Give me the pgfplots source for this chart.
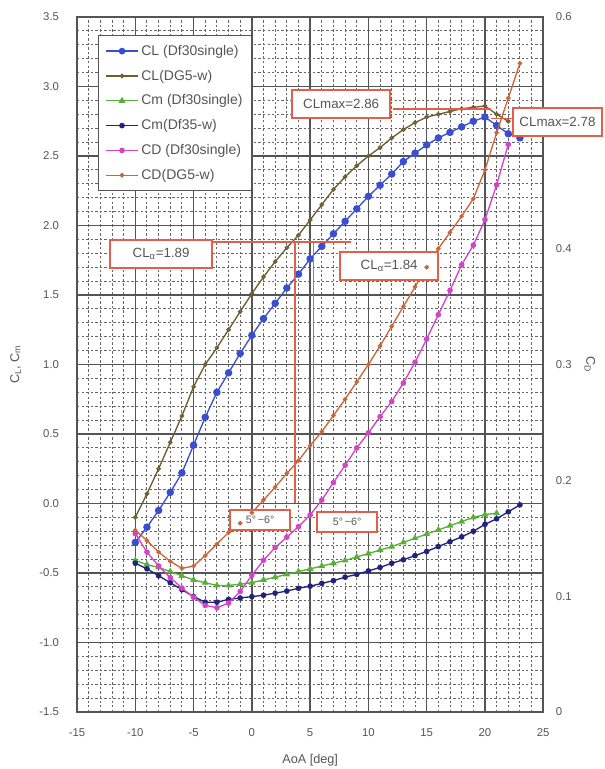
\documentclass[border=0pt]{standalone}
\usepackage{fontspec}
\setmainfont{Liberation Sans}
\usepackage{pgfplots}
\pgfplotsset{compat=1.18}
\usepackage{pgfplotstable}

\definecolor{clblue}{HTML}{3A4FD0}
\definecolor{clolive}{HTML}{6E5B30}
\definecolor{olivefill}{HTML}{B0A040}
\definecolor{cmgreen}{HTML}{5AAE3A}
\definecolor{cmnavy}{HTML}{23237E}
\definecolor{cdpink}{HTML}{D444C8}
\definecolor{cdorange}{HTML}{CC6638}
\definecolor{annred}{HTML}{E0604A}
\definecolor{txtgray}{HTML}{555555}
\definecolor{gridc}{HTML}{555555}

% CL (Df30single)
\pgfplotstableread{
a v
-10 -0.28
-9 -0.17
-8 -0.05
-7 0.08
-6 0.22
-5 0.42
-4 0.62
-3 0.80
-2 0.94
-1 1.08
0 1.21
1 1.33
2 1.44
3 1.55
4 1.65
5 1.76
6 1.85
7 1.94
8 2.03
9 2.12
10 2.21
11 2.29
12 2.37
13 2.46
14 2.52
15 2.58
16 2.63
17 2.67
18 2.71
19 2.75
20 2.78
21 2.72
22 2.66
23 2.63
}\clA
% CL (DG5-w)
\pgfplotstableread{
a v
-10 -0.10
-9 0.07
-8 0.25
-7 0.44
-6 0.63
-5 0.84
-4 1.00
-3 1.12
-2 1.25
-1 1.38
0 1.51
1 1.63
2 1.74
3 1.84
4 1.93
5 2.04
6 2.15
7 2.26
8 2.35
9 2.43
10 2.50
11 2.56
12 2.63
13 2.69
14 2.74
15 2.78
16 2.80
17 2.82
18 2.84
19 2.85
20 2.86
21 2.80
22 2.75
}\clB
% Cm (Df30single)
\pgfplotstableread{
a v
-10 -0.41
-9 -0.44
-8 -0.46
-7 -0.49
-6 -0.52
-5 -0.55
-4 -0.57
-3 -0.59
-2 -0.59
-1 -0.58
0 -0.57
1 -0.55
2 -0.53
3 -0.51
4 -0.49
5 -0.47
6 -0.45
7 -0.43
8 -0.41
9 -0.385
10 -0.36
11 -0.335
12 -0.31
13 -0.28
14 -0.25
15 -0.22
16 -0.19
17 -0.16
18 -0.13
19 -0.10
20 -0.08
21 -0.07
}\cmA
% Cm (Df35-w)
\pgfplotstableread{
a v
-10 -0.43
-9 -0.47
-8 -0.52
-7 -0.57
-6 -0.62
-5 -0.67
-4 -0.71
-3 -0.71
-2 -0.69
-1 -0.68
0 -0.67
1 -0.66
2 -0.645
3 -0.63
4 -0.61
5 -0.595
6 -0.575
7 -0.555
8 -0.53
9 -0.51
10 -0.485
11 -0.46
12 -0.43
13 -0.405
14 -0.375
15 -0.345
16 -0.31
17 -0.275
18 -0.24
19 -0.20
20 -0.15
21 -0.11
22 -0.06
23 -0.01
}\cmB
% CD (Df30single)
\pgfplotstableread{
a v
-10 0.154
-9 0.138
-8 0.126
-7 0.116
-6 0.107
-5 0.099
-4 0.092
-3 0.090
-2 0.094
-1 0.104
0 0.118
1 0.131
2 0.142
3 0.151
4 0.160
5 0.170
6 0.183
7 0.198
8 0.213
9 0.228
10 0.241
11 0.255
12 0.268
13 0.284
14 0.302
15 0.322
16 0.343
17 0.364
18 0.386
19 0.403
20 0.425
21 0.455
22 0.490
}\cdA
% CD (DG5-w)
\pgfplotstableread{
a v
-10 0.157
-9 0.148
-8 0.138
-7 0.130
-6 0.124
-5 0.126
-4 0.135
-3 0.145
-2 0.155
-1 0.163
0 0.172
1 0.183
2 0.194
3 0.206
4 0.217
5 0.230
6 0.242
7 0.256
8 0.270
9 0.285
10 0.300
11 0.316
12 0.333
13 0.350
14 0.367
15 0.384
16 0.400
17 0.414
18 0.428
19 0.443
20 0.468
21 0.500
22 0.530
23 0.560
}\cdB

\tikzset{annbox/.style={draw=annred, line width=1.5pt, fill=white, text=txtgray,
  font=\fontsize{10}{12}\selectfont, inner sep=2pt, minimum height=21pt}}

\begin{document}
\begin{tikzpicture}
\begin{axis}[name=ax,
  scale only axis, width=349.5pt, height=521pt,
  xmin=-15, xmax=25, ymin=-1.5, ymax=3.5,
  xtick={-15,-10,...,25}, ytick={-1.5,-1,...,3.5},
  minor x tick num=4, minor y tick num=4,
  grid=both,
  major grid style={gridc, line width=1pt},
  minor grid style={gridc!90, line width=0.7pt, dash pattern=on 1.8pt off 1.6pt},
  axis line style={gridc, line width=1.3pt},
  tick style={draw=none},
  /pgf/number format/assume math mode=true,
  ticklabel style={font=\fontsize{8.5}{10}\selectfont, text=txtgray},
  yticklabel style={/pgf/number format/fixed, /pgf/number format/fixed zerofill, /pgf/number format/precision=1, xshift=-10pt},
  xticklabel style={yshift=-9pt},
  xlabel={AoA [deg]},
  xlabel style={at={(rel axis cs:0.5,0)}, anchor=center, yshift=-36pt, font=\fontsize{9.5}{11}\selectfont, text=txtgray},
  ylabel={C\textsubscript{L}, C\textsubscript{m}},
  ylabel style={at={(rel axis cs:0,0.5)}, anchor=center, rotate=0, yshift=46pt, font=\fontsize{9.5}{11}\selectfont, text=txtgray},
  clip=false,
]
\addplot[clblue, line width=1pt, mark=*, mark size=2.3pt] table[x=a,y=v]{\clA};
\addplot[clolive, line width=1pt, mark=*, mark size=1.2pt, mark options={fill=olivefill, draw=clolive}] table[x=a,y=v]{\clB};
\addplot[cmgreen, line width=1pt, mark=triangle*, mark size=2pt] table[x=a,y=v]{\cmA};
\addplot[cmnavy, line width=1pt, mark=*, mark size=1.6pt] table[x=a,y=v]{\cmB};
\end{axis}
\begin{axis}[
  scale only axis, width=349.5pt, height=521pt,
  xmin=-15, xmax=25, ymin=0, ymax=0.6,
  axis x line=none, axis y line*=right,
  ytick={0,0.1,0.2,0.3,0.4,0.5,0.6},
  tick style={draw=none},
  axis line style={gridc, line width=1.3pt},
  /pgf/number format/assume math mode=true,
  ticklabel style={font=\fontsize{8.5}{10}\selectfont, text=txtgray},
  yticklabel style={xshift=6pt},
  ylabel={C\textsubscript{D}},
  ylabel style={at={(rel axis cs:1,0.5)}, anchor=center, rotate=180, yshift=35pt, font=\fontsize{9.5}{11}\selectfont, text=txtgray},
  clip=false,
  legend style={at={(rel axis cs:0.045,0.974)}, anchor=north west,
    draw=gridc, line width=1pt, fill=white, font=\fontsize{10.5}{12}\selectfont,
    text=txtgray, row sep=5.5pt, inner xsep=5pt, inner ysep=5pt},
  legend cell align=left,
  legend image code/.code={\draw[#1] (0pt,0pt) -- (12pt,0pt) -- (24pt,0pt); \draw[#1, only marks] plot coordinates {(12pt,0pt)};},
]
\addlegendimage{clblue, line width=1pt, mark=*, mark size=2pt}
\addlegendentry{CL (Df30single)}
\addlegendimage{clolive, line width=1pt, mark=*, mark size=1.2pt, mark options={fill=olivefill, draw=clolive}}
\addlegendentry{CL(DG5-w)}
\addlegendimage{cmgreen, line width=1pt, mark=triangle*, mark size=2pt}
\addlegendentry{Cm (Df30single)}
\addlegendimage{cmnavy, line width=1pt, mark=*, mark size=1.6pt}
\addlegendentry{Cm(Df35-w)}
\addplot[cdpink, line width=1pt, mark=*, mark size=1.6pt] table[x=a,y=v]{\cdA};
\addlegendentry{CD (Df30single)}
\addplot[cdorange, line width=1pt, mark=*, mark size=1.2pt] table[x=a,y=v]{\cdB};
\addlegendentry{CD(DG5-w)}
% annotations (CL values converted to CD scale: CD=(CL+1.5)*0.12)
\draw[annred, line width=1.2pt] (axis cs:12.1,0.5208) -- (axis cs:20.5,0.5208);
\draw[annred, line width=1.2pt] (axis cs:20.5,0.5124) -- (axis cs:22.5,0.5124);
\draw[annred, line width=1.2pt] (axis cs:-3.4,0.4056) -- (axis cs:8.5,0.4056);
\draw[annred, line width=1.2pt] (axis cs:3.7,0.4056) -- (axis cs:3.7,0.18);
\draw[annred, line width=1.2pt] (axis cs:5.3,0.4056) -- (axis cs:5.3,0.18);
\node[annbox, minimum width=73.5pt] at (axis cs:7.66,0.5249) {CLmax=2.86};
\node[annbox, minimum width=67pt, anchor=west] at (axis cs:22.3,0.5094) {CLmax=2.78};
\node[annbox, minimum width=76.5pt] at (axis cs:-7.79,0.3954) {CL\textsubscript{α}=1.89};
\node[annbox, minimum width=73.5pt] at (axis cs:11.78,0.3852) {CL\textsubscript{α}=1.84};
\node[annbox, minimum width=45pt, minimum height=15pt, font=\fontsize{8}{9}\selectfont] at (axis cs:0.71,0.1656) {5°\,\textasciitilde6°};
\node[annbox, minimum width=45pt, minimum height=15pt, font=\fontsize{8}{9}\selectfont] at (axis cs:8.18,0.1644) {5°\,\textasciitilde6°};
\end{axis}
\pgfresetboundingbox
\path ([shift={(-57.75pt,-42.75pt)}]ax.south west) rectangle ([shift={(45.75pt,12.75pt)}]ax.north east);
\end{tikzpicture}
\end{document}
